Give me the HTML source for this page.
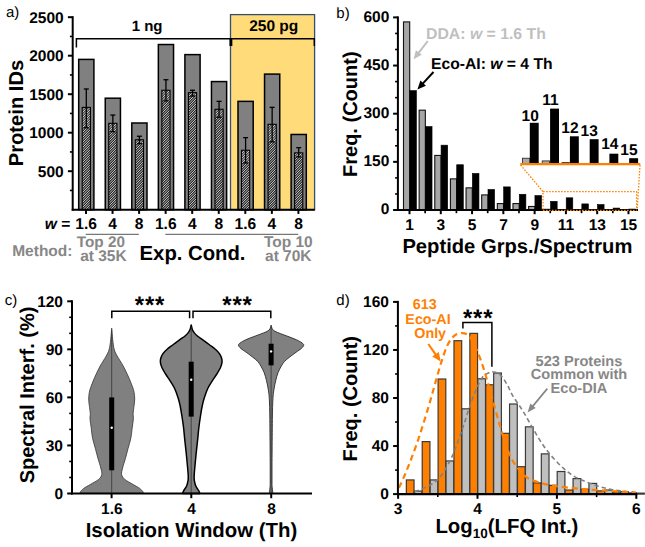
<!DOCTYPE html>
<html><head><meta charset="utf-8"><title>Figure</title>
<style>html,body{margin:0;padding:0;background:#fff;}body{width:645px;height:547px;overflow:hidden;font-family:"Liberation Sans",sans-serif;}svg{display:block;}text{font-family:"Liberation Sans",sans-serif;text-rendering:geometricPrecision;}</style></head>
<body>
<svg width="645" height="547" viewBox="0 0 645 547" style="font-family:'Liberation Sans',sans-serif">
<defs>
<pattern id="hatch" width="25.0" height="25.0" patternUnits="userSpaceOnUse"><rect width="25.0" height="25.0" fill="#2c2c2c"/><path d="M-25.00,25.00 L0.00,0 M-22.50,25.00 L2.50,0 M-20.00,25.00 L5.00,0 M-17.50,25.00 L7.50,0 M-15.00,25.00 L10.00,0 M-12.50,25.00 L12.50,0 M-10.00,25.00 L15.00,0 M-7.50,25.00 L17.50,0 M-5.00,25.00 L20.00,0 M-2.50,25.00 L22.50,0 M0.00,25.00 L25.00,0 M2.50,25.00 L27.50,0 M5.00,25.00 L30.00,0 M7.50,25.00 L32.50,0 M10.00,25.00 L35.00,0 M12.50,25.00 L37.50,0 M15.00,25.00 L40.00,0 M17.50,25.00 L42.50,0 M20.00,25.00 L45.00,0 M22.50,25.00 L47.50,0 M25.00,25.00 L50.00,0 " stroke="#dcdcdc" stroke-width="0.85" fill="none"/></pattern>
<marker id="arrG" markerWidth="10" markerHeight="10" refX="7" refY="4" orient="auto" markerUnits="userSpaceOnUse"><path d="M0,0 L9,4 L0,8 Z" fill="#bdbdbd"/></marker>
</defs>
<rect x="230.50" y="14.60" width="84.10" height="195.10" fill="#ffdb7a" stroke="#34506f" stroke-width="1.3" />
<rect x="78.70" y="59.40" width="15.20" height="150.30" fill="#808080" stroke="#000" stroke-width="1.5" />
<rect x="82.20" y="107.37" width="8.20" height="102.33" fill="url(#hatch)" stroke="#000" stroke-width="1.1" />
<rect x="82.70" y="107.87" width="7.20" height="19.91" fill="#fff" stroke="none" stroke-width="1" opacity="0.13"/>
<line x1="86.3" y1="88.96399999999998" x2="86.3" y2="127.77199999999999" stroke="#000" stroke-width="1.3" />
<line x1="83.8" y1="88.96399999999998" x2="88.8" y2="88.96399999999998" stroke="#000" stroke-width="1.3" />
<line x1="83.8" y1="127.77199999999999" x2="88.8" y2="127.77199999999999" stroke="#000" stroke-width="1.3" />
<rect x="105.25" y="98.20" width="15.20" height="111.50" fill="#808080" stroke="#000" stroke-width="1.5" />
<rect x="108.75" y="123.31" width="8.20" height="86.39" fill="url(#hatch)" stroke="#000" stroke-width="1.1" />
<rect x="109.25" y="123.81" width="7.20" height="7.89" fill="#fff" stroke="none" stroke-width="1" opacity="0.13"/>
<line x1="112.85" y1="115.067" x2="112.85" y2="131.69899999999998" stroke="#000" stroke-width="1.3" />
<line x1="110.35" y1="115.067" x2="115.35" y2="115.067" stroke="#000" stroke-width="1.3" />
<line x1="110.35" y1="131.69899999999998" x2="115.35" y2="131.69899999999998" stroke="#000" stroke-width="1.3" />
<rect x="131.80" y="123.00" width="15.20" height="86.70" fill="#808080" stroke="#000" stroke-width="1.5" />
<rect x="135.30" y="139.78" width="8.20" height="69.92" fill="url(#hatch)" stroke="#000" stroke-width="1.1" />
<rect x="135.80" y="140.28" width="7.20" height="3.43" fill="#fff" stroke="none" stroke-width="1" opacity="0.13"/>
<line x1="139.4" y1="136.242" x2="139.4" y2="143.71099999999998" stroke="#000" stroke-width="1.3" />
<line x1="136.9" y1="136.242" x2="141.9" y2="136.242" stroke="#000" stroke-width="1.3" />
<line x1="136.9" y1="143.71099999999998" x2="141.9" y2="143.71099999999998" stroke="#000" stroke-width="1.3" />
<rect x="158.35" y="44.53" width="15.20" height="165.16" fill="#808080" stroke="#000" stroke-width="1.5" />
<rect x="161.85" y="90.27" width="8.20" height="119.43" fill="url(#hatch)" stroke="#000" stroke-width="1.1" />
<rect x="162.35" y="90.77" width="7.20" height="10.13" fill="#fff" stroke="none" stroke-width="1" opacity="0.13"/>
<line x1="165.95000000000002" y1="79.72399999999999" x2="165.95000000000002" y2="100.89899999999999" stroke="#000" stroke-width="1.3" />
<line x1="163.45000000000002" y1="79.72399999999999" x2="168.45000000000002" y2="79.72399999999999" stroke="#000" stroke-width="1.3" />
<line x1="163.45000000000002" y1="100.89899999999999" x2="168.45000000000002" y2="100.89899999999999" stroke="#000" stroke-width="1.3" />
<rect x="184.90" y="54.62" width="15.20" height="155.08" fill="#808080" stroke="#000" stroke-width="1.5" />
<rect x="188.40" y="92.66" width="8.20" height="117.04" fill="url(#hatch)" stroke="#000" stroke-width="1.1" />
<rect x="188.90" y="93.16" width="7.20" height="2.89" fill="#fff" stroke="none" stroke-width="1" opacity="0.13"/>
<line x1="192.5" y1="90.273" x2="192.5" y2="96.04799999999999" stroke="#000" stroke-width="1.3" />
<line x1="190.0" y1="90.273" x2="195.0" y2="90.273" stroke="#000" stroke-width="1.3" />
<line x1="190.0" y1="96.04799999999999" x2="195.0" y2="96.04799999999999" stroke="#000" stroke-width="1.3" />
<rect x="211.45" y="81.57" width="15.20" height="128.13" fill="#808080" stroke="#000" stroke-width="1.5" />
<rect x="214.95" y="109.29" width="8.20" height="100.41" fill="url(#hatch)" stroke="#000" stroke-width="1.1" />
<rect x="215.45" y="109.79" width="7.20" height="7.43" fill="#fff" stroke="none" stroke-width="1" opacity="0.13"/>
<line x1="219.04999999999998" y1="101.36099999999999" x2="219.04999999999998" y2="117.22299999999998" stroke="#000" stroke-width="1.3" />
<line x1="216.54999999999998" y1="101.36099999999999" x2="221.54999999999998" y2="101.36099999999999" stroke="#000" stroke-width="1.3" />
<line x1="216.54999999999998" y1="117.22299999999998" x2="221.54999999999998" y2="117.22299999999998" stroke="#000" stroke-width="1.3" />
<rect x="238.00" y="101.36" width="15.20" height="108.34" fill="#808080" stroke="#000" stroke-width="1.5" />
<rect x="241.50" y="150.26" width="8.20" height="59.44" fill="url(#hatch)" stroke="#000" stroke-width="1.1" />
<rect x="242.00" y="150.76" width="7.20" height="12.21" fill="#fff" stroke="none" stroke-width="1" opacity="0.13"/>
<line x1="245.6" y1="137.628" x2="245.6" y2="162.96099999999998" stroke="#000" stroke-width="1.3" />
<line x1="243.1" y1="137.628" x2="248.1" y2="137.628" stroke="#000" stroke-width="1.3" />
<line x1="243.1" y1="162.96099999999998" x2="248.1" y2="162.96099999999998" stroke="#000" stroke-width="1.3" />
<rect x="264.55" y="74.10" width="15.20" height="135.60" fill="#808080" stroke="#000" stroke-width="1.5" />
<rect x="268.05" y="124.31" width="8.20" height="85.39" fill="url(#hatch)" stroke="#000" stroke-width="1.1" />
<rect x="268.55" y="124.81" width="7.20" height="17.06" fill="#fff" stroke="none" stroke-width="1" opacity="0.13"/>
<line x1="272.15000000000003" y1="107.36699999999999" x2="272.15000000000003" y2="141.863" stroke="#000" stroke-width="1.3" />
<line x1="269.65000000000003" y1="107.36699999999999" x2="274.65000000000003" y2="107.36699999999999" stroke="#000" stroke-width="1.3" />
<line x1="269.65000000000003" y1="141.863" x2="274.65000000000003" y2="141.863" stroke="#000" stroke-width="1.3" />
<rect x="291.10" y="134.47" width="15.20" height="75.23" fill="#808080" stroke="#000" stroke-width="1.5" />
<rect x="294.60" y="152.87" width="8.20" height="56.83" fill="url(#hatch)" stroke="#000" stroke-width="1.1" />
<rect x="295.10" y="153.37" width="7.20" height="3.50" fill="#fff" stroke="none" stroke-width="1" opacity="0.13"/>
<line x1="298.70000000000005" y1="147.63799999999998" x2="298.70000000000005" y2="156.878" stroke="#000" stroke-width="1.3" />
<line x1="296.20000000000005" y1="147.63799999999998" x2="301.20000000000005" y2="147.63799999999998" stroke="#000" stroke-width="1.3" />
<line x1="296.20000000000005" y1="156.878" x2="301.20000000000005" y2="156.878" stroke="#000" stroke-width="1.3" />
<line x1="72.7" y1="16.19999999999999" x2="72.7" y2="210.7" stroke="#000" stroke-width="2" />
<line x1="71.7" y1="209.7" x2="314.8" y2="209.7" stroke="#000" stroke-width="2.1" />
<line x1="67.9" y1="171.2" x2="72.7" y2="171.2" stroke="#000" stroke-width="2" />
<text x="63.7" y="176.6" font-size="15.5" font-weight="bold" fill="#000" text-anchor="end" >500</text>
<line x1="67.9" y1="132.7" x2="72.7" y2="132.7" stroke="#000" stroke-width="2" />
<text x="63.7" y="138.1" font-size="15.5" font-weight="bold" fill="#000" text-anchor="end" >1000</text>
<line x1="67.9" y1="94.19999999999999" x2="72.7" y2="94.19999999999999" stroke="#000" stroke-width="2" />
<text x="63.7" y="99.6" font-size="15.5" font-weight="bold" fill="#000" text-anchor="end" >1500</text>
<line x1="67.9" y1="55.69999999999999" x2="72.7" y2="55.69999999999999" stroke="#000" stroke-width="2" />
<text x="63.7" y="61.09999999999999" font-size="15.5" font-weight="bold" fill="#000" text-anchor="end" >2000</text>
<line x1="67.9" y1="17.19999999999999" x2="72.7" y2="17.19999999999999" stroke="#000" stroke-width="2" />
<text x="63.7" y="22.599999999999987" font-size="15.5" font-weight="bold" fill="#000" text-anchor="end" >2500</text>
<line x1="69.9" y1="190.45" x2="72.7" y2="190.45" stroke="#000" stroke-width="1.6" />
<line x1="69.9" y1="151.95" x2="72.7" y2="151.95" stroke="#000" stroke-width="1.6" />
<line x1="69.9" y1="113.44999999999999" x2="72.7" y2="113.44999999999999" stroke="#000" stroke-width="1.6" />
<line x1="69.9" y1="74.94999999999999" x2="72.7" y2="74.94999999999999" stroke="#000" stroke-width="1.6" />
<line x1="69.9" y1="36.44999999999999" x2="72.7" y2="36.44999999999999" stroke="#000" stroke-width="1.6" />
<line x1="86.0" y1="209.7" x2="86.0" y2="213.89999999999998" stroke="#000" stroke-width="2" />
<line x1="112.55" y1="209.7" x2="112.55" y2="213.89999999999998" stroke="#000" stroke-width="2" />
<line x1="139.10000000000002" y1="209.7" x2="139.10000000000002" y2="213.89999999999998" stroke="#000" stroke-width="2" />
<line x1="165.65000000000003" y1="209.7" x2="165.65000000000003" y2="213.89999999999998" stroke="#000" stroke-width="2" />
<line x1="192.20000000000002" y1="209.7" x2="192.20000000000002" y2="213.89999999999998" stroke="#000" stroke-width="2" />
<line x1="218.75" y1="209.7" x2="218.75" y2="213.89999999999998" stroke="#000" stroke-width="2" />
<line x1="245.3" y1="209.7" x2="245.3" y2="213.89999999999998" stroke="#000" stroke-width="2" />
<line x1="271.85" y1="209.7" x2="271.85" y2="213.89999999999998" stroke="#000" stroke-width="2" />
<line x1="298.40000000000003" y1="209.7" x2="298.40000000000003" y2="213.89999999999998" stroke="#000" stroke-width="2" />
<path d="M76.4,47.5 V38.8 H314.3 V46 M230.2,38.8 V46 M231.6,38.8 V46" fill="none" stroke="#000" stroke-width="1.5"/>
<text x="147.1" y="30.5" font-size="15" font-weight="bold" fill="#000" text-anchor="middle" >1 ng</text>
<text x="273.7" y="30.5" font-size="15.5" font-weight="bold" fill="#000" text-anchor="middle" >250 pg</text>
<text transform="translate(23.3,113) rotate(-90)" font-size="20.2" font-weight="bold" fill="#000" text-anchor="middle">Protein IDs</text>
<text x="6" y="17.4" font-size="15" font-weight="normal" fill="#000" text-anchor="start" >a)</text>
<text x="86.10000000000001" y="229" font-size="15.6" font-weight="bold" fill="#000" text-anchor="middle" >1.6</text>
<text x="112.65" y="229" font-size="15.6" font-weight="bold" fill="#000" text-anchor="middle" >4</text>
<text x="139.20000000000002" y="229" font-size="15.6" font-weight="bold" fill="#000" text-anchor="middle" >8</text>
<text x="165.75000000000003" y="229" font-size="15.6" font-weight="bold" fill="#000" text-anchor="middle" >1.6</text>
<text x="192.3" y="229" font-size="15.6" font-weight="bold" fill="#000" text-anchor="middle" >4</text>
<text x="218.85" y="229" font-size="15.6" font-weight="bold" fill="#000" text-anchor="middle" >8</text>
<text x="245.4" y="229" font-size="15.6" font-weight="bold" fill="#000" text-anchor="middle" >1.6</text>
<text x="271.95" y="229" font-size="15.6" font-weight="bold" fill="#000" text-anchor="middle" >4</text>
<text x="298.5" y="229" font-size="15.6" font-weight="bold" fill="#000" text-anchor="middle" >8</text>
<text x="70.4" y="229" font-size="15.6" font-weight="bold" fill="#000" text-anchor="end" ><tspan font-style="italic">w</tspan> =</text>
<line x1="85.7" y1="234.3" x2="138.8" y2="234.3" stroke="#777" stroke-width="1.3" />
<line x1="165.3" y1="234.3" x2="298.2" y2="234.3" stroke="#777" stroke-width="1.3" />
<text x="12.2" y="255.9" font-size="15.5" font-weight="bold" fill="#878787" text-anchor="start" >Method:</text>
<text x="100.9" y="246.7" font-size="15.3" font-weight="bold" fill="#878787" text-anchor="middle" >Top 20</text>
<text x="103.4" y="260.8" font-size="15.5" font-weight="bold" fill="#878787" text-anchor="middle" >at 35K</text>
<text x="288.3" y="246.9" font-size="15.5" font-weight="bold" fill="#878787" text-anchor="middle" >Top 10</text>
<text x="288.3" y="261.2" font-size="15.5" font-weight="bold" fill="#878787" text-anchor="middle" >at 70K</text>
<text x="139.6" y="259.7" font-size="20.3" font-weight="bold" fill="#000" text-anchor="start" >Exp. Cond.</text>
<rect x="403.50" y="21.89" width="6.20" height="188.11" fill="#a6a6a6" stroke="#111" stroke-width="1.1" />
<rect x="409.80" y="90.59" width="6.60" height="119.41" fill="#000" stroke="#000" stroke-width="0.6" />
<rect x="419.14" y="110.17" width="6.20" height="99.83" fill="#a6a6a6" stroke="#111" stroke-width="1.1" />
<rect x="425.44" y="126.54" width="6.60" height="83.46" fill="#000" stroke="#000" stroke-width="0.6" />
<rect x="434.78" y="155.43" width="6.20" height="54.57" fill="#a6a6a6" stroke="#111" stroke-width="1.1" />
<rect x="441.08" y="145.16" width="6.60" height="64.84" fill="#000" stroke="#000" stroke-width="0.6" />
<rect x="450.42" y="178.86" width="6.20" height="31.14" fill="#a6a6a6" stroke="#111" stroke-width="1.1" />
<rect x="456.72" y="164.74" width="6.60" height="45.26" fill="#000" stroke="#000" stroke-width="0.6" />
<rect x="466.06" y="187.85" width="6.20" height="22.15" fill="#a6a6a6" stroke="#111" stroke-width="1.1" />
<rect x="472.36" y="173.41" width="6.60" height="36.59" fill="#000" stroke="#000" stroke-width="0.6" />
<rect x="481.70" y="194.91" width="6.20" height="15.09" fill="#a6a6a6" stroke="#111" stroke-width="1.1" />
<rect x="488.00" y="189.46" width="6.60" height="20.54" fill="#000" stroke="#000" stroke-width="0.6" />
<rect x="497.34" y="203.58" width="6.20" height="6.42" fill="#a6a6a6" stroke="#111" stroke-width="1.1" />
<rect x="503.64" y="186.89" width="6.60" height="23.11" fill="#000" stroke="#000" stroke-width="0.6" />
<rect x="512.98" y="203.58" width="6.20" height="6.42" fill="#a6a6a6" stroke="#111" stroke-width="1.1" />
<rect x="519.28" y="194.27" width="6.60" height="15.73" fill="#000" stroke="#000" stroke-width="0.6" />
<rect x="528.62" y="206.47" width="6.20" height="3.53" fill="#a6a6a6" stroke="#111" stroke-width="1.1" />
<rect x="534.92" y="195.56" width="6.60" height="14.44" fill="#000" stroke="#000" stroke-width="0.6" />
<rect x="544.26" y="209.36" width="6.20" height="0.64" fill="#a6a6a6" stroke="#111" stroke-width="1.1" />
<rect x="550.56" y="201.33" width="6.60" height="8.67" fill="#000" stroke="#000" stroke-width="0.6" />
<rect x="559.90" y="209.68" width="6.20" height="0.32" fill="#a6a6a6" stroke="#111" stroke-width="1.1" />
<rect x="566.20" y="197.80" width="6.60" height="12.20" fill="#000" stroke="#000" stroke-width="0.6" />
<rect x="575.54" y="209.84" width="6.20" height="0.16" fill="#a6a6a6" stroke="#111" stroke-width="1.1" />
<rect x="581.84" y="203.90" width="6.60" height="6.10" fill="#000" stroke="#000" stroke-width="0.6" />
<rect x="597.48" y="204.54" width="6.60" height="5.46" fill="#000" stroke="#000" stroke-width="0.6" />
<rect x="613.12" y="208.07" width="6.60" height="1.93" fill="#000" stroke="#000" stroke-width="0.6" />
<rect x="628.76" y="209.04" width="6.60" height="0.96" fill="#000" stroke="#000" stroke-width="0.6" />
<line x1="397.9" y1="16.400000000000006" x2="397.9" y2="211.0" stroke="#000" stroke-width="2" />
<line x1="396.9" y1="210.0" x2="638" y2="210.0" stroke="#000" stroke-width="2.1" />
<line x1="393.09999999999997" y1="210.0" x2="397.9" y2="210.0" stroke="#000" stroke-width="2" />
<text x="389.29999999999995" y="214.1" font-size="15.5" font-weight="bold" fill="#000" text-anchor="end" >0</text>
<line x1="393.09999999999997" y1="161.85" x2="397.9" y2="161.85" stroke="#000" stroke-width="2" />
<text x="389.29999999999995" y="166.17499999999998" font-size="15.5" font-weight="bold" fill="#000" text-anchor="end" >150</text>
<line x1="393.09999999999997" y1="113.7" x2="397.9" y2="113.7" stroke="#000" stroke-width="2" />
<text x="389.29999999999995" y="118.25" font-size="15.5" font-weight="bold" fill="#000" text-anchor="end" >300</text>
<line x1="393.09999999999997" y1="65.54999999999998" x2="397.9" y2="65.54999999999998" stroke="#000" stroke-width="2" />
<text x="389.29999999999995" y="70.32499999999999" font-size="15.5" font-weight="bold" fill="#000" text-anchor="end" >450</text>
<line x1="393.09999999999997" y1="17.400000000000006" x2="397.9" y2="17.400000000000006" stroke="#000" stroke-width="2" />
<text x="389.29999999999995" y="22.400000000000006" font-size="15.5" font-weight="bold" fill="#000" text-anchor="end" >600</text>
<line x1="395.09999999999997" y1="193.95" x2="397.9" y2="193.95" stroke="#000" stroke-width="1.6" />
<line x1="395.09999999999997" y1="177.9" x2="397.9" y2="177.9" stroke="#000" stroke-width="1.6" />
<line x1="395.09999999999997" y1="145.8" x2="397.9" y2="145.8" stroke="#000" stroke-width="1.6" />
<line x1="395.09999999999997" y1="129.75" x2="397.9" y2="129.75" stroke="#000" stroke-width="1.6" />
<line x1="395.09999999999997" y1="97.64999999999999" x2="397.9" y2="97.64999999999999" stroke="#000" stroke-width="1.6" />
<line x1="395.09999999999997" y1="81.6" x2="397.9" y2="81.6" stroke="#000" stroke-width="1.6" />
<line x1="395.09999999999997" y1="49.5" x2="397.9" y2="49.5" stroke="#000" stroke-width="1.6" />
<line x1="395.09999999999997" y1="33.44999999999999" x2="397.9" y2="33.44999999999999" stroke="#000" stroke-width="1.6" />
<line x1="409.5" y1="210.0" x2="409.5" y2="214.2" stroke="#000" stroke-width="2" />
<text x="409.6" y="230.1" font-size="15.5" font-weight="bold" fill="#000" text-anchor="middle" >1</text>
<line x1="425.14" y1="210.0" x2="425.14" y2="213.2" stroke="#000" stroke-width="1.7" />
<line x1="440.78000000000003" y1="210.0" x2="440.78000000000003" y2="214.2" stroke="#000" stroke-width="2" />
<text x="440.88000000000005" y="230.1" font-size="15.5" font-weight="bold" fill="#000" text-anchor="middle" >3</text>
<line x1="456.42" y1="210.0" x2="456.42" y2="213.2" stroke="#000" stroke-width="1.7" />
<line x1="472.06" y1="210.0" x2="472.06" y2="214.2" stroke="#000" stroke-width="2" />
<text x="472.16" y="230.1" font-size="15.5" font-weight="bold" fill="#000" text-anchor="middle" >5</text>
<line x1="487.7" y1="210.0" x2="487.7" y2="213.2" stroke="#000" stroke-width="1.7" />
<line x1="503.34" y1="210.0" x2="503.34" y2="214.2" stroke="#000" stroke-width="2" />
<text x="503.44" y="230.1" font-size="15.5" font-weight="bold" fill="#000" text-anchor="middle" >7</text>
<line x1="518.98" y1="210.0" x2="518.98" y2="213.2" stroke="#000" stroke-width="1.7" />
<line x1="534.6200000000001" y1="210.0" x2="534.6200000000001" y2="214.2" stroke="#000" stroke-width="2" />
<text x="534.72" y="230.1" font-size="15.5" font-weight="bold" fill="#000" text-anchor="middle" >9</text>
<line x1="550.26" y1="210.0" x2="550.26" y2="213.2" stroke="#000" stroke-width="1.7" />
<line x1="565.9000000000001" y1="210.0" x2="565.9000000000001" y2="214.2" stroke="#000" stroke-width="2" />
<text x="566.0" y="230.1" font-size="15.5" font-weight="bold" fill="#000" text-anchor="middle" >11</text>
<line x1="581.5400000000001" y1="210.0" x2="581.5400000000001" y2="213.2" stroke="#000" stroke-width="1.7" />
<line x1="597.1800000000001" y1="210.0" x2="597.1800000000001" y2="214.2" stroke="#000" stroke-width="2" />
<text x="597.28" y="230.1" font-size="15.5" font-weight="bold" fill="#000" text-anchor="middle" >13</text>
<line x1="612.82" y1="210.0" x2="612.82" y2="213.2" stroke="#000" stroke-width="1.7" />
<line x1="628.46" y1="210.0" x2="628.46" y2="214.2" stroke="#000" stroke-width="2" />
<text x="628.56" y="230.1" font-size="15.5" font-weight="bold" fill="#000" text-anchor="middle" >15</text>
<text x="336.3" y="18.1" font-size="15" font-weight="normal" fill="#000" text-anchor="start" >b)</text>
<text transform="translate(357.2,114.2) rotate(-90)" font-size="20" font-weight="bold" fill="#000" text-anchor="middle">Freq. (Count)</text>
<text x="517.4" y="252.6" font-size="20.2" font-weight="bold" fill="#000" text-anchor="middle" >Peptide Grps./Spectrum</text>
<text x="426" y="39.1" font-size="15.8" font-weight="bold" fill="#bfbfbf" text-anchor="start" >DDA: <tspan font-style="italic">w</tspan> = 1.6 Th</text>
<text x="431" y="69" font-size="15.7" font-weight="bold" fill="#000" text-anchor="start" >Eco-AI: <tspan font-style="italic">w</tspan> = 4 Th</text>
<path d="M427.8,41.0 L418.2,53.3" stroke="#bfbfbf" stroke-width="2" fill="none"/>
<path d="M413.6,59.2 L415.9,50.2 L421.8,54.8 Z" fill="#bfbfbf"/>
<path d="M433.5,72.0 L422.5,83.9" stroke="#000" stroke-width="2" fill="none"/>
<path d="M417.4,89.4 L420.4,80.6 L425.9,85.7 Z" fill="#000"/>
<rect x="522.40" y="158.20" width="7.40" height="5.30" fill="#a9a9a9" stroke="#222" stroke-width="0.8" />
<rect x="542.20" y="160.90" width="7.40" height="2.60" fill="#a9a9a9" stroke="#222" stroke-width="0.8" />
<rect x="562.00" y="162.60" width="7.40" height="0.90" fill="#a9a9a9" stroke="#222" stroke-width="0.8" />
<rect x="529.80" y="122.80" width="8.90" height="40.70" fill="#000" stroke="none" stroke-width="1" />
<rect x="550.10" y="108.60" width="8.90" height="54.90" fill="#000" stroke="none" stroke-width="1" />
<rect x="569.90" y="136.30" width="8.90" height="27.20" fill="#000" stroke="none" stroke-width="1" />
<rect x="589.70" y="139.20" width="8.90" height="24.30" fill="#000" stroke="none" stroke-width="1" />
<rect x="609.40" y="153.70" width="8.90" height="9.80" fill="#000" stroke="none" stroke-width="1" />
<rect x="629.20" y="158.20" width="8.90" height="5.30" fill="#000" stroke="none" stroke-width="1" />
<line x1="520.3" y1="164.2" x2="640.3" y2="164.2" stroke="#ff8000" stroke-width="2.2" />
<path d="M543,209.6 V191.7 H636.6 V209.6" fill="none" stroke="#ff8000" stroke-width="1.3" stroke-dasharray="1.6,1.4"/>
<path d="M520.6,165 L543,191.7 M640,165 L637.2,209.6" fill="none" stroke="#ff8000" stroke-width="1.3" stroke-dasharray="1.6,1.4"/>
<path d="M543,210.3 H636.6" fill="none" stroke="#ff8000" stroke-width="1.3" stroke-dasharray="1.6,1.4"/>
<text x="530.2" y="120.9" font-size="15.5" font-weight="bold" fill="#000" text-anchor="middle" >10</text>
<text x="550.4" y="104.7" font-size="15.5" font-weight="bold" fill="#000" text-anchor="middle" >11</text>
<text x="569.9" y="132.8" font-size="15.5" font-weight="bold" fill="#000" text-anchor="middle" >12</text>
<text x="589.2" y="135.9" font-size="15.5" font-weight="bold" fill="#000" text-anchor="middle" >13</text>
<text x="609.8" y="149.4" font-size="15.5" font-weight="bold" fill="#000" text-anchor="middle" >14</text>
<text x="628.9" y="155.4" font-size="15.5" font-weight="bold" fill="#000" text-anchor="middle" >15</text>
<path d="M111.7,328.2 C111.9,330.1 112.3,336.1 112.7,339.7 C113.1,343.3 113.5,346.9 114.3,349.6 C115.1,352.4 115.8,353.5 117.3,356.2 C118.8,358.9 121.4,362.7 123.2,366.0 C125.0,369.3 126.6,372.7 128.1,376.0 C129.6,379.3 131.1,383.1 132.1,385.8 C133.1,388.5 133.7,390.2 134.1,392.4 C134.5,394.6 134.7,396.8 134.7,399.0 C134.7,401.2 134.4,403.0 134.1,405.5 C133.8,408.0 133.2,411.6 133.1,413.8 C133.0,416.0 133.6,416.2 133.4,418.7 C133.2,421.2 132.5,425.3 132.1,428.6 C131.7,431.9 131.5,435.1 130.8,438.4 C130.1,441.7 129.0,445.0 128.1,448.3 C127.2,451.6 126.4,454.9 125.5,458.2 C124.6,461.5 123.2,465.3 122.6,468.0 C122.0,470.7 121.2,472.7 121.6,474.6 C122.0,476.5 123.0,477.9 124.9,479.5 C126.8,481.1 130.6,483.0 133.1,484.5 C135.6,486.0 138.1,487.2 139.7,488.4 C141.3,489.6 142.3,490.9 142.9,491.7 C143.5,492.5 143.2,493.1 143.3,493.4 L80.1,493.4 C80.2,493.1 79.9,492.5 80.5,491.7 C81.1,490.9 82.1,489.6 83.7,488.4 C85.3,487.2 87.8,486.0 90.3,484.5 C92.8,483.0 96.6,481.1 98.5,479.5 C100.4,477.9 101.4,476.5 101.8,474.6 C102.2,472.7 101.4,470.7 100.8,468.0 C100.2,465.3 98.8,461.5 97.9,458.2 C97.0,454.9 96.2,451.6 95.3,448.3 C94.4,445.0 93.3,441.7 92.6,438.4 C91.9,435.1 91.7,431.9 91.3,428.6 C90.9,425.3 90.2,421.2 90.0,418.7 C89.8,416.2 90.4,416.0 90.3,413.8 C90.2,411.6 89.6,408.0 89.3,405.5 C89.0,403.0 88.7,401.2 88.7,399.0 C88.7,396.8 88.9,394.6 89.3,392.4 C89.7,390.2 90.3,388.5 91.3,385.8 C92.3,383.1 93.8,379.3 95.3,376.0 C96.8,372.7 98.4,369.3 100.2,366.0 C102.0,362.7 104.6,358.9 106.1,356.2 C107.6,353.5 108.3,352.4 109.1,349.6 C109.9,346.9 110.3,343.3 110.7,339.7 C111.1,336.1 111.5,330.1 111.7,328.2 Z" fill="#808080" stroke="#333" stroke-width="0.8" stroke-linejoin="round"/>
<path d="M191.2,325.0 C191.4,325.8 191.9,328.5 192.4,329.8 C192.9,331.1 193.5,331.9 194.3,332.9 C195.1,333.9 196.0,334.8 197.4,336.0 C198.8,337.2 200.9,338.5 202.9,339.9 C204.8,341.3 207.0,342.9 209.1,344.5 C211.2,346.1 213.5,347.6 215.3,349.2 C217.0,350.8 218.5,352.2 219.6,353.8 C220.7,355.4 221.3,357.1 221.7,358.5 C222.1,359.9 222.2,360.8 222.0,362.4 C221.8,363.9 221.3,365.9 220.4,367.8 C219.5,369.7 218.1,371.9 216.8,374.0 C215.5,376.1 214.1,378.0 212.6,380.3 C211.1,382.6 209.4,385.1 208.0,388.0 C206.6,390.9 205.4,394.4 204.4,397.4 C203.4,400.4 202.8,402.9 202.2,406.0 C201.5,409.1 201.1,412.3 200.5,416.0 C199.9,419.7 199.3,423.7 198.8,428.0 C198.3,432.3 197.9,437.5 197.4,442.0 C196.9,446.5 196.4,450.9 196.0,455.0 C195.6,459.1 195.2,463.2 194.9,466.5 C194.6,469.8 194.3,472.7 194.2,475.0 C194.1,477.3 194.0,478.6 194.3,480.4 C194.6,482.2 195.0,484.3 195.8,486.0 C196.5,487.7 198.1,489.6 198.8,490.8 C199.5,492.0 199.6,493.0 199.8,493.4 L182.6,493.4 C182.8,493.0 182.9,492.0 183.6,490.8 C184.3,489.6 185.8,487.7 186.6,486.0 C187.3,484.3 187.8,482.2 188.1,480.4 C188.4,478.6 188.3,477.3 188.2,475.0 C188.1,472.7 187.8,469.8 187.5,466.5 C187.2,463.2 186.8,459.1 186.4,455.0 C186.0,450.9 185.5,446.5 185.0,442.0 C184.5,437.5 184.1,432.3 183.6,428.0 C183.1,423.7 182.5,419.7 181.9,416.0 C181.3,412.3 180.8,409.1 180.2,406.0 C179.5,402.9 179.0,400.4 178.0,397.4 C177.0,394.4 175.8,390.9 174.4,388.0 C173.0,385.1 171.3,382.6 169.8,380.3 C168.3,378.0 166.9,376.1 165.6,374.0 C164.3,371.9 162.9,369.7 162.0,367.8 C161.1,365.9 160.6,363.9 160.4,362.4 C160.2,360.8 160.3,359.9 160.7,358.5 C161.1,357.1 161.7,355.4 162.8,353.8 C163.9,352.2 165.3,350.8 167.1,349.2 C168.8,347.6 171.2,346.1 173.3,344.5 C175.4,342.9 177.6,341.3 179.5,339.9 C181.4,338.5 183.6,337.2 185.0,336.0 C186.4,334.8 187.3,333.9 188.1,332.9 C188.9,331.9 189.5,331.1 190.0,329.8 C190.5,328.5 191.0,325.8 191.2,325.0 Z" fill="#808080" stroke="#000" stroke-width="1.5" stroke-linejoin="round"/>
<path d="M271.1,325.1 C271.3,325.8 271.7,328.0 272.3,329.0 C272.9,330.0 273.6,330.5 275.0,331.3 C276.4,332.1 278.1,332.7 280.4,333.6 C282.7,334.5 286.3,335.8 289.0,336.8 C291.7,337.9 294.5,338.9 296.7,339.9 C298.9,340.9 300.9,342.1 302.1,343.0 C303.3,343.9 303.8,344.4 303.7,345.3 C303.6,346.2 302.7,347.2 301.4,348.4 C300.1,349.6 297.9,350.9 296.0,352.3 C294.1,353.7 291.7,355.4 289.7,357.0 C287.8,358.6 285.7,360.1 284.3,361.6 C282.9,363.2 282.2,364.5 281.2,366.3 C280.2,368.1 279.0,370.2 278.1,372.5 C277.2,374.8 276.4,377.7 275.8,380.3 C275.2,382.9 274.7,385.1 274.2,388.0 C273.7,390.9 273.3,392.7 273.0,397.4 C272.7,402.1 272.6,407.2 272.4,416.0 C272.3,424.8 272.2,439.3 272.1,450.0 C272.0,460.7 272.0,473.7 272.0,480.0 C272.0,486.3 272.1,485.8 272.3,488.0 C272.5,490.2 272.8,492.5 272.9,493.4 L269.3,493.4 C269.4,492.5 269.8,490.2 269.9,488.0 C270.1,485.8 270.2,486.3 270.2,480.0 C270.2,473.7 270.2,460.7 270.1,450.0 C270.0,439.3 269.9,424.8 269.8,416.0 C269.7,407.2 269.5,402.1 269.2,397.4 C268.9,392.7 268.5,390.9 268.0,388.0 C267.5,385.1 267.1,382.9 266.4,380.3 C265.8,377.7 265.0,374.8 264.1,372.5 C263.2,370.2 262.0,368.1 261.0,366.3 C260.0,364.5 259.3,363.2 257.9,361.6 C256.5,360.1 254.5,358.6 252.5,357.0 C250.6,355.4 248.2,353.7 246.2,352.3 C244.2,350.9 242.1,349.6 240.8,348.4 C239.5,347.2 238.6,346.2 238.5,345.3 C238.4,344.4 238.9,343.9 240.1,343.0 C241.3,342.1 243.3,340.9 245.5,339.9 C247.7,338.9 250.5,337.9 253.2,336.8 C255.9,335.8 259.5,334.5 261.8,333.6 C264.1,332.7 265.9,332.1 267.2,331.3 C268.6,330.5 269.3,330.0 269.9,329.0 C270.6,328.0 270.9,325.8 271.1,325.1 Z" fill="#808080" stroke="#2a2a2a" stroke-width="0.9" stroke-linejoin="round"/>
<line x1="111.7" y1="330" x2="111.7" y2="493.4" stroke="#333" stroke-width="0.8" />
<rect x="109.20" y="397.40" width="5.00" height="72.88" fill="#000" stroke="none" stroke-width="1" />
<circle cx="111.7" cy="427.8" r="1.2" fill="#fff"/>
<line x1="191.2" y1="327" x2="191.2" y2="493.4" stroke="#333" stroke-width="0.8" />
<rect x="188.70" y="361.68" width="5.00" height="54.94" fill="#000" stroke="none" stroke-width="1" />
<circle cx="191.2" cy="379.8" r="1.2" fill="#fff"/>
<line x1="271.1" y1="327" x2="271.1" y2="493.4" stroke="#333" stroke-width="0.8" />
<rect x="268.60" y="343.74" width="5.00" height="21.62" fill="#000" stroke="none" stroke-width="1" />
<circle cx="271.1" cy="351.4" r="1.2" fill="#fff"/>
<line x1="72.0" y1="300.3" x2="72.0" y2="494.5" stroke="#000" stroke-width="2" />
<line x1="71.0" y1="493.5" x2="312" y2="493.5" stroke="#000" stroke-width="2.1" />
<line x1="67.2" y1="493.5" x2="72.0" y2="493.5" stroke="#000" stroke-width="2" />
<text x="63.0" y="498.8" font-size="15.5" font-weight="bold" fill="#000" text-anchor="end" >0</text>
<line x1="67.2" y1="445.45" x2="72.0" y2="445.45" stroke="#000" stroke-width="2" />
<text x="63.0" y="450.75" font-size="15.5" font-weight="bold" fill="#000" text-anchor="end" >30</text>
<line x1="67.2" y1="397.4" x2="72.0" y2="397.4" stroke="#000" stroke-width="2" />
<text x="63.0" y="402.7" font-size="15.5" font-weight="bold" fill="#000" text-anchor="end" >60</text>
<line x1="67.2" y1="349.35" x2="72.0" y2="349.35" stroke="#000" stroke-width="2" />
<text x="63.0" y="354.65000000000003" font-size="15.5" font-weight="bold" fill="#000" text-anchor="end" >90</text>
<line x1="67.2" y1="301.3" x2="72.0" y2="301.3" stroke="#000" stroke-width="2" />
<text x="63.0" y="306.6" font-size="15.5" font-weight="bold" fill="#000" text-anchor="end" >120</text>
<line x1="69.2" y1="477.48333333333335" x2="72.0" y2="477.48333333333335" stroke="#000" stroke-width="1.6" />
<line x1="69.2" y1="461.4666666666667" x2="72.0" y2="461.4666666666667" stroke="#000" stroke-width="1.6" />
<line x1="69.2" y1="429.43333333333334" x2="72.0" y2="429.43333333333334" stroke="#000" stroke-width="1.6" />
<line x1="69.2" y1="413.4166666666667" x2="72.0" y2="413.4166666666667" stroke="#000" stroke-width="1.6" />
<line x1="69.2" y1="381.3833333333333" x2="72.0" y2="381.3833333333333" stroke="#000" stroke-width="1.6" />
<line x1="69.2" y1="365.3666666666667" x2="72.0" y2="365.3666666666667" stroke="#000" stroke-width="1.6" />
<line x1="69.2" y1="333.33333333333337" x2="72.0" y2="333.33333333333337" stroke="#000" stroke-width="1.6" />
<line x1="69.2" y1="317.31666666666666" x2="72.0" y2="317.31666666666666" stroke="#000" stroke-width="1.6" />
<line x1="111.6" y1="493.5" x2="111.6" y2="498.2" stroke="#000" stroke-width="2" />
<text x="111.89999999999999" y="514" font-size="15.5" font-weight="bold" fill="#000" text-anchor="middle" >1.6</text>
<line x1="191.3" y1="493.5" x2="191.3" y2="498.2" stroke="#000" stroke-width="2" />
<text x="191.60000000000002" y="514" font-size="15.5" font-weight="bold" fill="#000" text-anchor="middle" >4</text>
<line x1="271.2" y1="493.5" x2="271.2" y2="498.2" stroke="#000" stroke-width="2" />
<text x="271.5" y="514" font-size="15.5" font-weight="bold" fill="#000" text-anchor="middle" >8</text>
<text x="4.8" y="304.6" font-size="15" font-weight="normal" fill="#000" text-anchor="start" >c)</text>
<text transform="translate(33.8,395) rotate(-90)" font-size="20" font-weight="bold" fill="#000" text-anchor="middle">Spectral Interf. (%)</text>
<text x="191.5" y="537.1" font-size="20.4" font-weight="bold" fill="#000" text-anchor="middle" >Isolation Window (Th)</text>
<path d="M111.8,318.3 V311.3 H189.6 V318.3 M193,318.3 V311.3 H270.8 V318.3" fill="none" stroke="#000" stroke-width="1.5"/>
<text x="150" y="312.5" font-size="24" font-weight="bold" fill="#000" text-anchor="middle" letter-spacing="0.8">***</text>
<text x="237.5" y="312.5" font-size="24" font-weight="bold" fill="#000" text-anchor="middle" letter-spacing="0.8">***</text>
<rect x="406.34" y="479.93" width="7.70" height="14.17" fill="#ff8000" stroke="#3a3a3a" stroke-width="1.2" />
<rect x="414.28" y="491.10" width="7.70" height="3.00" fill="#bfbfbf" stroke="#3a3a3a" stroke-width="1.2" />
<rect x="422.22" y="441.61" width="7.70" height="52.49" fill="#ff8000" stroke="#3a3a3a" stroke-width="1.2" />
<rect x="430.16" y="479.93" width="7.70" height="14.17" fill="#bfbfbf" stroke="#3a3a3a" stroke-width="1.2" />
<rect x="438.10" y="379.02" width="7.70" height="115.08" fill="#ff8000" stroke="#3a3a3a" stroke-width="1.2" />
<rect x="446.04" y="460.95" width="7.70" height="33.15" fill="#bfbfbf" stroke="#3a3a3a" stroke-width="1.2" />
<rect x="453.98" y="340.70" width="7.70" height="153.40" fill="#ff8000" stroke="#3a3a3a" stroke-width="1.2" />
<rect x="461.92" y="408.81" width="7.70" height="85.29" fill="#bfbfbf" stroke="#3a3a3a" stroke-width="1.2" />
<rect x="469.86" y="333.37" width="7.70" height="160.73" fill="#ff8000" stroke="#3a3a3a" stroke-width="1.2" />
<rect x="477.80" y="378.78" width="7.70" height="115.32" fill="#bfbfbf" stroke="#3a3a3a" stroke-width="1.2" />
<rect x="485.74" y="384.79" width="7.70" height="109.31" fill="#ff8000" stroke="#3a3a3a" stroke-width="1.2" />
<rect x="493.68" y="373.01" width="7.70" height="121.09" fill="#bfbfbf" stroke="#3a3a3a" stroke-width="1.2" />
<rect x="501.62" y="433.32" width="7.70" height="60.78" fill="#ff8000" stroke="#3a3a3a" stroke-width="1.2" />
<rect x="509.56" y="404.01" width="7.70" height="90.09" fill="#bfbfbf" stroke="#3a3a3a" stroke-width="1.2" />
<rect x="517.50" y="466.71" width="7.70" height="27.39" fill="#ff8000" stroke="#3a3a3a" stroke-width="1.2" />
<rect x="525.44" y="426.83" width="7.70" height="67.27" fill="#bfbfbf" stroke="#3a3a3a" stroke-width="1.2" />
<rect x="533.38" y="482.93" width="7.70" height="11.17" fill="#ff8000" stroke="#3a3a3a" stroke-width="1.2" />
<rect x="541.32" y="453.86" width="7.70" height="40.24" fill="#bfbfbf" stroke="#3a3a3a" stroke-width="1.2" />
<rect x="549.26" y="485.33" width="7.70" height="8.77" fill="#ff8000" stroke="#3a3a3a" stroke-width="1.2" />
<rect x="557.20" y="471.52" width="7.70" height="22.58" fill="#bfbfbf" stroke="#3a3a3a" stroke-width="1.2" />
<rect x="565.14" y="490.02" width="7.70" height="4.08" fill="#ff8000" stroke="#3a3a3a" stroke-width="1.2" />
<rect x="573.08" y="478.60" width="7.70" height="15.50" fill="#bfbfbf" stroke="#3a3a3a" stroke-width="1.2" />
<rect x="581.02" y="489.30" width="7.70" height="4.81" fill="#ff8000" stroke="#3a3a3a" stroke-width="1.2" />
<rect x="588.96" y="483.41" width="7.70" height="10.69" fill="#bfbfbf" stroke="#3a3a3a" stroke-width="1.2" />
<rect x="596.90" y="490.86" width="7.70" height="3.24" fill="#ff8000" stroke="#3a3a3a" stroke-width="1.2" />
<rect x="604.84" y="490.02" width="7.70" height="4.08" fill="#bfbfbf" stroke="#3a3a3a" stroke-width="1.2" />
<rect x="612.78" y="491.94" width="7.70" height="2.16" fill="#ff8000" stroke="#3a3a3a" stroke-width="1.2" />
<rect x="620.72" y="491.70" width="7.70" height="2.40" fill="#bfbfbf" stroke="#3a3a3a" stroke-width="1.2" />
<rect x="628.66" y="492.90" width="7.70" height="1.20" fill="#ff8000" stroke="#3a3a3a" stroke-width="1.2" />
<rect x="636.60" y="493.14" width="7.70" height="0.96" fill="#bfbfbf" stroke="#3a3a3a" stroke-width="1.2" />
<path d="M414.7,491.8 C416.9,490.9 424.0,488.2 427.9,486.2 C431.8,484.2 434.8,482.6 437.8,479.6 C440.8,476.6 443.3,472.8 446.0,468.1 C448.7,463.5 451.4,458.3 454.2,451.7 C456.9,445.1 460.0,435.7 462.5,428.6 C465.0,421.5 466.8,415.2 469.0,408.9 C471.2,402.6 473.4,396.0 475.6,390.8 C477.8,385.6 480.0,380.6 482.2,377.6 C484.4,374.6 486.9,373.6 488.8,372.7 C490.7,371.8 491.8,371.6 493.7,372.0 C495.6,372.4 498.1,372.8 500.3,374.8 C502.5,376.8 504.8,380.7 506.9,384.2 C509.0,387.7 510.1,391.3 512.8,395.8 C515.5,400.3 519.6,405.7 523.0,411.2 C526.4,416.7 529.8,423.2 533.2,429.0 C536.6,434.8 540.1,440.8 543.5,445.7 C546.9,450.6 550.3,454.7 553.7,458.5 C557.1,462.3 560.5,465.7 563.9,468.7 C567.3,471.7 570.4,474.1 574.2,476.4 C578.1,478.6 582.8,480.5 587.0,482.2 C591.2,483.9 595.5,485.4 599.7,486.6 C604.0,487.9 607.8,488.9 612.5,489.7 C617.2,490.5 623.9,491.2 627.9,491.7 C631.9,492.2 635.3,492.4 636.8,492.5 " fill="none" stroke="#808080" stroke-width="1.6" stroke-dasharray="4.5,3"/>
<path d="M398.9,487.9 C399.9,485.7 402.8,479.6 404.9,474.7 C407.0,469.8 409.0,464.8 411.5,458.2 C414.0,451.6 417.0,443.4 419.7,435.2 C422.4,427.0 425.4,417.1 427.9,408.9 C430.4,400.7 432.3,393.5 434.5,385.8 C436.7,378.1 438.9,369.7 441.1,362.8 C443.3,355.9 445.5,349.2 447.7,344.7 C449.9,340.2 452.0,337.7 454.2,335.8 C456.4,333.9 458.9,333.5 460.8,333.2 C462.7,332.9 464.2,333.0 465.8,333.8 C467.4,334.6 468.8,335.2 470.7,338.1 C472.6,341.0 475.1,346.1 477.3,351.3 C479.5,356.5 481.7,362.5 483.9,369.4 C486.1,376.2 488.3,384.7 490.5,392.4 C492.7,400.1 495.2,409.2 497.0,415.5 C498.8,421.8 499.7,425.1 501.3,430.3 C502.9,435.6 504.5,441.9 506.4,447.0 C508.3,452.1 510.4,456.9 512.8,461.0 C515.1,465.1 518.0,468.4 520.5,471.3 C523.0,474.2 525.1,476.4 528.1,478.2 C531.1,480.0 534.5,481.1 538.4,482.3 C542.2,483.5 546.5,484.5 551.2,485.3 C555.9,486.1 561.0,486.8 566.5,487.4 C572.0,488.0 578.4,488.7 584.4,489.2 C590.4,489.7 595.9,490.0 602.3,490.4 C608.7,490.8 617.3,491.3 622.8,491.7 C628.3,492.1 633.4,492.4 635.5,492.5 " fill="none" stroke="#ff8000" stroke-width="2.2" stroke-dasharray="6,4"/>
<line x1="397.9" y1="300.90000000000003" x2="397.9" y2="495.1" stroke="#000" stroke-width="2" />
<line x1="396.9" y1="494.1" x2="637.3" y2="494.1" stroke="#000" stroke-width="2.1" />
<line x1="393.09999999999997" y1="494.1" x2="397.9" y2="494.1" stroke="#000" stroke-width="2" />
<text x="388.9" y="499.40000000000003" font-size="15.5" font-weight="bold" fill="#000" text-anchor="end" >0</text>
<line x1="393.09999999999997" y1="446.05" x2="397.9" y2="446.05" stroke="#000" stroke-width="2" />
<text x="388.9" y="451.35" font-size="15.5" font-weight="bold" fill="#000" text-anchor="end" >40</text>
<line x1="393.09999999999997" y1="398.0" x2="397.9" y2="398.0" stroke="#000" stroke-width="2" />
<text x="388.9" y="403.3" font-size="15.5" font-weight="bold" fill="#000" text-anchor="end" >80</text>
<line x1="393.09999999999997" y1="349.95000000000005" x2="397.9" y2="349.95000000000005" stroke="#000" stroke-width="2" />
<text x="388.9" y="355.25000000000006" font-size="15.5" font-weight="bold" fill="#000" text-anchor="end" >120</text>
<line x1="393.09999999999997" y1="301.90000000000003" x2="397.9" y2="301.90000000000003" stroke="#000" stroke-width="2" />
<text x="388.9" y="307.20000000000005" font-size="15.5" font-weight="bold" fill="#000" text-anchor="end" >160</text>
<line x1="395.09999999999997" y1="470.07500000000005" x2="397.9" y2="470.07500000000005" stroke="#000" stroke-width="1.6" />
<line x1="395.09999999999997" y1="422.02500000000003" x2="397.9" y2="422.02500000000003" stroke="#000" stroke-width="1.6" />
<line x1="395.09999999999997" y1="373.975" x2="397.9" y2="373.975" stroke="#000" stroke-width="1.6" />
<line x1="395.09999999999997" y1="325.92500000000007" x2="397.9" y2="325.92500000000007" stroke="#000" stroke-width="1.6" />
<line x1="398.1" y1="494.1" x2="398.1" y2="498.8" stroke="#000" stroke-width="2" />
<text x="398.1" y="514" font-size="15.5" font-weight="bold" fill="#000" text-anchor="middle" >3</text>
<line x1="477.5" y1="494.1" x2="477.5" y2="498.8" stroke="#000" stroke-width="2" />
<text x="477.5" y="514" font-size="15.5" font-weight="bold" fill="#000" text-anchor="middle" >4</text>
<line x1="556.9000000000001" y1="494.1" x2="556.9000000000001" y2="498.8" stroke="#000" stroke-width="2" />
<text x="556.9000000000001" y="514" font-size="15.5" font-weight="bold" fill="#000" text-anchor="middle" >5</text>
<line x1="636.3000000000001" y1="494.1" x2="636.3000000000001" y2="498.8" stroke="#000" stroke-width="2" />
<text x="636.3000000000001" y="514" font-size="15.5" font-weight="bold" fill="#000" text-anchor="middle" >6</text>
<line x1="437.8" y1="494.1" x2="437.8" y2="497.1" stroke="#000" stroke-width="1.6" />
<line x1="517.2" y1="494.1" x2="517.2" y2="497.1" stroke="#000" stroke-width="1.6" />
<line x1="596.6" y1="494.1" x2="596.6" y2="497.1" stroke="#000" stroke-width="1.6" />
<text x="336.3" y="305" font-size="15" font-weight="normal" fill="#000" text-anchor="start" >d)</text>
<text transform="translate(357.2,398.8) rotate(-90)" font-size="20" font-weight="bold" fill="#000" text-anchor="middle">Freq. (Count)</text>
<text x="435.4" y="533.3" font-size="20.4" font-weight="bold" fill="#000" text-anchor="start" >Log<tspan font-size="13.5" dy="4.5">10</tspan><tspan dy="-4.5">(LFQ Int.)</tspan></text>
<text x="424.7" y="309.3" font-size="14.3" font-weight="bold" fill="#ff8000" text-anchor="middle" >613</text>
<text x="428" y="323.8" font-size="14.3" font-weight="bold" fill="#ff8000" text-anchor="middle" >Eco-AI</text>
<text x="430.2" y="338.3" font-size="14.3" font-weight="bold" fill="#ff8000" text-anchor="middle" >Only</text>
<text x="579" y="365.6" font-size="14.6" font-weight="bold" fill="#878787" text-anchor="middle" >523 Proteins</text>
<text x="579" y="379.2" font-size="14.6" font-weight="bold" fill="#878787" text-anchor="middle" >Common with</text>
<text x="579" y="393.2" font-size="14.6" font-weight="bold" fill="#878787" text-anchor="middle" >Eco-DIA</text>
<path d="M428.3,344.0 L436.1,355.1" stroke="#ff8000" stroke-width="2.1" fill="none"/>
<path d="M440.7,361.6 L432.2,356.5 L438.8,351.9 Z" fill="#ff8000"/>
<path d="M547.3,388.6 L532.4,406.6" stroke="#878787" stroke-width="1.7" fill="none"/>
<path d="M527.6,412.4 L530.3,403.6 L535.7,408.1 Z" fill="#878787"/>
<path d="M462.9,328.6 V322.4 H491.9 V366.8" fill="none" stroke="#000" stroke-width="1.5"/>
<text x="478.2" y="326" font-size="24" font-weight="bold" fill="#000" text-anchor="middle" letter-spacing="0.8">***</text>
</svg>
</body></html>
